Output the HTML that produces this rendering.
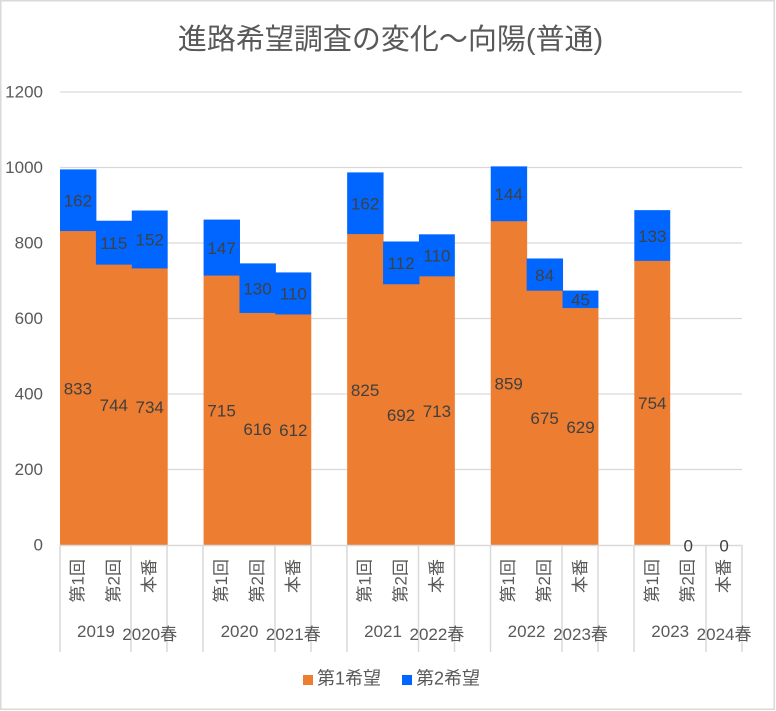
<!DOCTYPE html>
<html>
<head>
<meta charset="utf-8">
<style>
  html,body{margin:0;padding:0;background:#fff;}
  svg{display:block;}
  text{font-family:"Liberation Sans","Noto Sans CJK JP",sans-serif;}
  .ax{fill:#595959;font-size:17px;}
  .dl{fill:#404040;font-size:17px;}
</style>
</head>
<body>
<svg width="776" height="711" viewBox="0 0 776 711" xmlns="http://www.w3.org/2000/svg">
  <rect x="0" y="0" width="776" height="711" fill="#fff"/>
  <rect x="0.75" y="0.75" width="773.5" height="708.5" fill="none" stroke="#D9D9D9" stroke-width="1.5"/>

  <!-- title -->
  <text x="390.5" y="49" text-anchor="middle" font-size="29" fill="#595959">進路希望調査の変化～向陽(普通)</text>

  <!-- gridlines -->
  <g stroke="#D9D9D9" stroke-width="1.3">
    <line x1="60" y1="92" x2="742" y2="92"/>
    <line x1="60" y1="167.5" x2="742" y2="167.5"/>
    <line x1="60" y1="243" x2="742" y2="243"/>
    <line x1="60" y1="318.5" x2="742" y2="318.5"/>
    <line x1="60" y1="394" x2="742" y2="394"/>
    <line x1="60" y1="469.5" x2="742" y2="469.5"/>
  </g>

  <!-- y axis labels -->
  <g class="ax" text-anchor="end" dominant-baseline="central">
    <text x="43" y="92">1200</text>
    <text x="43" y="167.5">1000</text>
    <text x="43" y="243">800</text>
    <text x="43" y="318.5">600</text>
    <text x="43" y="394">400</text>
    <text x="43" y="469.5">200</text>
    <text x="43" y="545">0</text>
  </g>

  <!-- orange bars -->
  <g fill="#ED7D31">
    <rect x="60" y="230.54" width="36.4" height="314.46"/>
    <rect x="95.9" y="264.14" width="36.4" height="280.86"/>
    <rect x="131.79" y="267.91" width="35.9" height="277.09"/>
    <rect x="203.58" y="275.09" width="36.4" height="269.91"/>
    <rect x="239.48" y="312.46" width="36.4" height="232.54"/>
    <rect x="275.37" y="313.97" width="35.9" height="231.03"/>
    <rect x="347.16" y="233.56" width="36.4" height="311.44"/>
    <rect x="383.06" y="283.77" width="36.4" height="261.23"/>
    <rect x="418.95" y="275.84" width="35.9" height="269.16"/>
    <rect x="490.74" y="220.73" width="36.4" height="324.27"/>
    <rect x="526.64" y="290.19" width="36.4" height="254.81"/>
    <rect x="562.53" y="307.55" width="35.9" height="237.45"/>
    <rect x="634.32" y="260.36" width="35.9" height="284.64"/>
  </g>
  <!-- blue bars -->
  <g fill="#0066FF">
    <rect x="60" y="169.39" width="36.4" height="61.66"/>
    <rect x="95.9" y="220.73" width="36.4" height="43.91"/>
    <rect x="131.79" y="210.53" width="35.9" height="57.88"/>
    <rect x="203.58" y="219.59" width="36.4" height="56"/>
    <rect x="239.48" y="263.38" width="36.4" height="49.58"/>
    <rect x="275.37" y="272.44" width="35.9" height="42.03"/>
    <rect x="347.16" y="172.41" width="36.4" height="61.65"/>
    <rect x="383.06" y="241.49" width="36.4" height="42.78"/>
    <rect x="418.95" y="234.32" width="35.9" height="42.02"/>
    <rect x="490.74" y="166.37" width="36.4" height="54.86"/>
    <rect x="526.64" y="258.48" width="36.4" height="32.21"/>
    <rect x="562.53" y="290.56" width="35.9" height="17.49"/>
    <rect x="634.32" y="210.15" width="35.9" height="50.71"/>
  </g>

  <!-- axis line and tick separators -->
  <g stroke="#D9D9D9" stroke-width="1.5">
    <line x1="60" y1="545.5" x2="742" y2="545.5"/>
    <line x1="60" y1="545" x2="60" y2="652"/>
    <line x1="131" y1="545" x2="131" y2="652"/>
    <line x1="167" y1="545" x2="167" y2="652"/>
    <line x1="203" y1="545" x2="203" y2="652"/>
    <line x1="275" y1="545" x2="275" y2="652"/>
    <line x1="311" y1="545" x2="311" y2="652"/>
    <line x1="347" y1="545" x2="347" y2="652"/>
    <line x1="418.5" y1="545" x2="418.5" y2="652"/>
    <line x1="454.5" y1="545" x2="454.5" y2="652"/>
    <line x1="490.5" y1="545" x2="490.5" y2="652"/>
    <line x1="562" y1="545" x2="562" y2="652"/>
    <line x1="598" y1="545" x2="598" y2="652"/>
    <line x1="634" y1="545" x2="634" y2="652"/>
    <line x1="706" y1="545" x2="706" y2="652"/>
    <line x1="742" y1="545" x2="742" y2="652"/>
  </g>

  <!-- data labels -->
  <g class="dl" text-anchor="middle" dominant-baseline="central">
    <text x="77.9" y="388.8">833</text>
    <text x="113.8" y="405.6">744</text>
    <text x="149.7" y="407.5">734</text>
    <text x="221.6" y="411">715</text>
    <text x="257.5" y="429.7">616</text>
    <text x="293.3" y="430.5">612</text>
    <text x="365.1" y="390.3">825</text>
    <text x="401" y="415.4">692</text>
    <text x="436.9" y="411.4">713</text>
    <text x="508.7" y="383.9">859</text>
    <text x="544.6" y="418.6">675</text>
    <text x="580.5" y="427.3">629</text>
    <text x="652.3" y="403.7">754</text>

    <text x="77.9" y="201">162</text>
    <text x="113.8" y="243.4">115</text>
    <text x="149.7" y="240.2">152</text>
    <text x="221.6" y="248.3">147</text>
    <text x="257.5" y="288.9">130</text>
    <text x="293.3" y="294.2">110</text>
    <text x="365.1" y="204">162</text>
    <text x="401" y="263.6">112</text>
    <text x="436.9" y="256.1">110</text>
    <text x="508.7" y="194.5">144</text>
    <text x="544.6" y="275.3">84</text>
    <text x="580.5" y="300">45</text>
    <text x="652.3" y="236.3">133</text>

    <text x="688.2" y="546">0</text>
    <text x="724.1" y="546">0</text>
  </g>

  <!-- rotated category labels -->
  <g class="ax" text-anchor="end" dominant-baseline="central">
    <text transform="translate(77.9,559) rotate(-90)">第1回</text>
    <text transform="translate(113.8,559) rotate(-90)">第2回</text>
    <text transform="translate(149.7,559) rotate(-90)">本番</text>
    <text transform="translate(221.6,559) rotate(-90)">第1回</text>
    <text transform="translate(257.5,559) rotate(-90)">第2回</text>
    <text transform="translate(293.3,559) rotate(-90)">本番</text>
    <text transform="translate(365.1,559) rotate(-90)">第1回</text>
    <text transform="translate(401,559) rotate(-90)">第2回</text>
    <text transform="translate(436.9,559) rotate(-90)">本番</text>
    <text transform="translate(508.7,559) rotate(-90)">第1回</text>
    <text transform="translate(544.6,559) rotate(-90)">第2回</text>
    <text transform="translate(580.5,559) rotate(-90)">本番</text>
    <text transform="translate(652.3,559) rotate(-90)">第1回</text>
    <text transform="translate(688.2,559) rotate(-90)">第2回</text>
    <text transform="translate(724.1,559) rotate(-90)">本番</text>
  </g>

  <!-- group labels -->
  <g class="ax" text-anchor="middle">
    <text x="95.9" y="637">2019</text>
    <text x="149.7" y="640">2020春</text>
    <text x="239.5" y="637">2020</text>
    <text x="293.3" y="640">2021春</text>
    <text x="383" y="637">2021</text>
    <text x="436.9" y="640">2022春</text>
    <text x="526.6" y="637">2022</text>
    <text x="580.5" y="640">2023春</text>
    <text x="670.2" y="637">2023</text>
    <text x="724.1" y="640">2024春</text>
  </g>

  <!-- legend -->
  <rect x="303" y="675" width="10" height="10" fill="#ED7D31"/>
  <text x="317" y="684.5" font-size="18" fill="#595959">第1希望</text>
  <rect x="402" y="675" width="10" height="10" fill="#0066FF"/>
  <text x="416" y="684.5" font-size="18" fill="#595959">第2希望</text>
</svg>
</body>
</html>
